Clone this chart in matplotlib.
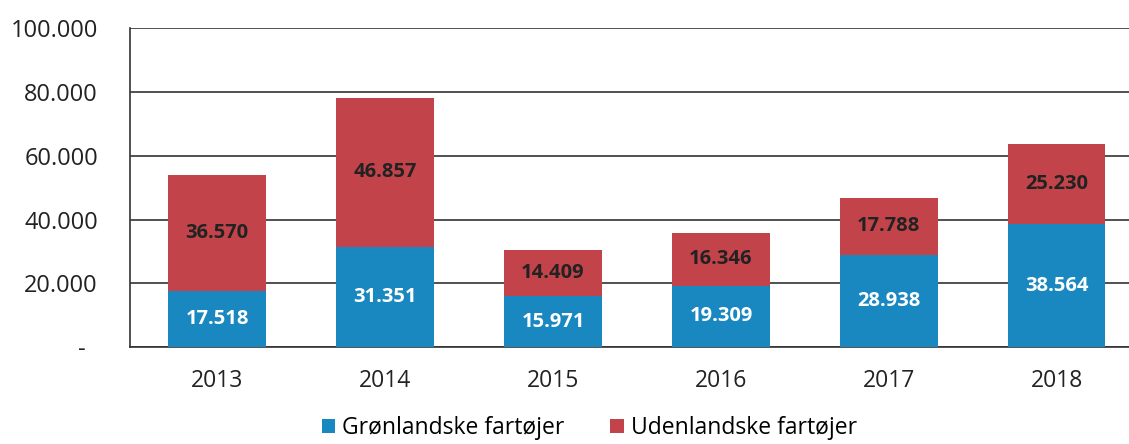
import matplotlib
matplotlib.use("Agg")
import matplotlib.pyplot as plt
from matplotlib.ticker import FixedLocator, FixedFormatter

years = ["2013", "2014", "2015", "2016", "2017", "2018"]
groenlandske = [17518, 31351, 15971, 19309, 28938, 38564]
udenlandske = [36570, 46857, 14409, 16346, 17788, 25230]
ytick_vals = [0, 20000, 40000, 60000, 80000, 100000]
ytick_labels = ["-  ", "20.000", "40.000", "60.000", "80.000", "100.000"]

blue = "#1a88c0"
red = "#c2444a"

plt.rcParams['font.family'] = ['Open Sans', 'DejaVu Sans']

fig = plt.figure(figsize=(11.29, 4.44), dpi=100)
ax = fig.add_axes([0.115, 0.218, 0.885, 0.719])

x = list(range(len(years)))
w = 0.58
b1 = ax.bar(x, groenlandske, width=w, color=blue, zorder=3, label="Grønlandske fartøjer")
b2 = ax.bar(x, udenlandske, width=w, bottom=groenlandske, color=red, zorder=3, label="Udenlandske fartøjer")

def fmt(v):
    return f"{v:,}".replace(",", ".")

for xi, g, u in zip(x, groenlandske, udenlandske):
    ax.text(xi, g / 2, fmt(g), ha="center", va="center", color="white",
            fontsize=14.5, fontweight="bold", zorder=4)
    ax.text(xi, g + u / 2, fmt(u), ha="center", va="center", color="#222222",
            fontsize=14.5, fontweight="bold", zorder=4)

ax.set_ylim(0, 100000)
ax.set_xlim(-0.52, 5.43)
ax.yaxis.set_major_locator(FixedLocator(ytick_vals))
ax.yaxis.set_major_formatter(FixedFormatter(ytick_labels))
ax.set_xticks(x)
ax.set_xticklabels(years)
ax.tick_params(axis="both", length=0, colors="#222222")
ax.tick_params(axis="y", pad=23, labelsize=17)
ax.tick_params(axis="x", pad=16, labelsize=16.5)
ax.grid(axis="y", color="#333333", linewidth=1.2, zorder=0)
for s in ["top", "right"]:
    ax.spines[s].set_visible(False)
ax.spines["left"].set_color("#333333")
ax.spines["bottom"].set_color("#333333")
ax.spines["left"].set_linewidth(1.2)
ax.spines["bottom"].set_linewidth(1.2)

leg = fig.legend(handles=[b1, b2], loc="lower center", bbox_to_anchor=(0.522, -0.038),
                 ncol=2, frameon=False, fontsize=16.5, handlelength=0.6,
                 handleheight=0.6, handletextpad=0.3, columnspacing=2.0)

fig.savefig("out.png", dpi=100)
